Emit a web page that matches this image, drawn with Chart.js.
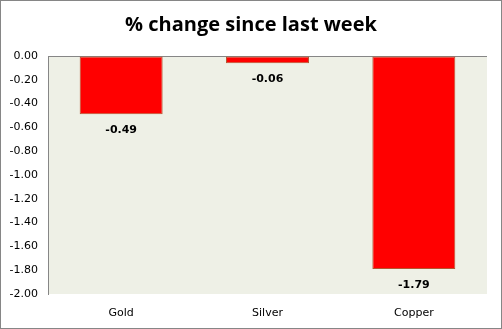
<!DOCTYPE html>
<html>
<head>
<meta charset="utf-8">
<script src="https://cdn.jsdelivr.net/npm/chart.js@4/dist/chart.umd.min.js"></script>
<style>
  html, body { margin: 0; padding: 0; background: #fff; }
  #wrap { position: relative; width: 500px; height: 327px; border: 1px solid #868686; }
</style>
</head>
<body>
<div id="wrap"><canvas id="c"></canvas></div>
<script>
  // data
  var categories = ['Gold', 'Silver', 'Copper'];
  var changes = [-0.49, -0.06, -1.79];
  var yMin = -2, yMax = 0, yStep = 0.2;
  var TITLE = '% change since last week';

  var PLOT_BG = '#EEF0E6';
  var AXIS = '#868686';

  /* plot area fill */
  var plotBg = {
    id: 'plotBg',
    beforeDraw: function (chart) {
      var a = chart.chartArea, ctx = chart.ctx;
      ctx.save();
      ctx.fillStyle = PLOT_BG;
      ctx.fillRect(a.left, a.top, a.right - a.left, a.bottom - a.top);
      ctx.restore();
    }
  };

  /* title centred on the whole canvas, not the padded box */
  var titleText = {
    id: 'titleText',
    afterDraw: function (chart) {
      var ctx = chart.ctx;
      ctx.save();
      ctx.font = 'bold 20px "Open Sans", sans-serif';
      ctx.fillStyle = '#000';
      ctx.textAlign = 'center';
      ctx.textBaseline = 'middle';
      ctx.fillText(TITLE, chart.width / 2, 24);
      ctx.restore();
    }
  };

  /* value labels under each bar end */
  var valueLabels = {
    id: 'valueLabels',
    afterDatasetsDraw: function (chart) {
      var ctx = chart.ctx, meta = chart.getDatasetMeta(0);
      ctx.save();
      ctx.font = 'bold 11px "DejaVu Sans", Verdana, sans-serif';
      ctx.fillStyle = '#000';
      ctx.textAlign = 'center';
      ctx.textBaseline = 'middle';
      meta.data.forEach(function (bar, i) {
        ctx.fillText(changes[i].toFixed(2), bar.x, bar.y + 16);
      });
      ctx.restore();
    }
  };

  new Chart(document.getElementById('c'), {
    type: 'bar',
    data: {
      labels: categories,
      datasets: [{
        data: changes,
        backgroundColor: '#FF0000',
        borderColor: '#B4552F',
        borderWidth: 1,
        borderSkipped: false,
        categoryPercentage: 1,
        barPercentage: 0.567
      }]
    },
    options: {
      responsive: true,
      maintainAspectRatio: false,
      animation: false,
      layout: { padding: { left: 0, right: 14, top: 55, bottom: 0 } },
      plugins: {
        legend: { display: false },
        tooltip: { enabled: false },
        title: { display: false }
      },
      scales: {
        x: {
          grid: { display: false },
          border: { display: false },
          ticks: { color: '#000', padding: 5,
                   font: { family: '"DejaVu Sans", Tahoma, sans-serif', size: 11 } },
          afterFit: function (s) { s.height = 34; }
        },
        y: {
          min: yMin, max: yMax,
          ticks: { stepSize: yStep, color: '#000', padding: 10,
                   font: { family: '"DejaVu Sans", Verdana, sans-serif', size: 11 },
                   callback: function (v) { return v.toFixed(2); } },
          grid: {
            drawTicks: false,
            color: function (c) { return c.tick && c.tick.value === 0 ? AXIS : 'transparent'; }
          },
          border: { display: true, color: AXIS },
          afterFit: function (s) { s.width = 47; }
        }
      }
    },
    plugins: [plotBg, titleText, valueLabels]
  });
</script>
</body>
</html>
